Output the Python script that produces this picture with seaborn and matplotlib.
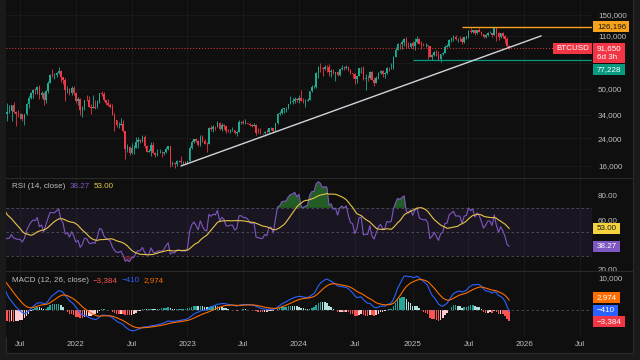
import matplotlib
matplotlib.use('Agg')
import matplotlib.pyplot as plt
from matplotlib.lines import Line2D
from matplotlib.patches import Rectangle
from matplotlib.transforms import Bbox, TransformedBbox
import numpy as np
import pandas as pd
import seaborn as sns

# BTCUSD weekly candles in thousands of USD, first week starts 2020-07-06
close_k = [
    # 2020
    9.25, 9.17, 9.93, 11.05, 11.70, 11.77, 11.65, 11.68, 10.26, 10.33, 11.08, 10.77, 10.67,
    11.38, 11.50, 13.03, 13.76, 15.48, 16.05, 18.40, 18.18, 19.15, 19.27, 23.86, 26.27, 33.00,
    # 2021
    38.2, 35.8, 32.3, 33.1, 38.9, 48.6, 57.5, 45.2, 51.0, 59.0, 57.3, 55.8, 58.2,
    60.0, 56.2, 49.0, 56.6, 58.2, 46.4, 34.7, 35.7, 35.8, 39.1, 35.5, 34.7, 34.2,
    34.2, 31.8, 34.2, 39.8, 43.8, 47.0, 49.3, 48.9, 51.7, 46.0, 47.3, 42.7, 48.2,
    54.7, 61.5, 61.3, 61.3, 63.3, 65.5, 59.7, 57.3, 49.4, 50.1, 46.8, 50.8, 47.3,
    # 2022
    41.9, 43.1, 36.3, 38.2, 42.4, 42.2, 38.4, 37.7, 38.4, 37.8, 41.3, 46.8, 46.4,
    42.2, 40.4, 39.5, 38.5, 34.1, 31.3, 29.4, 29.4, 29.9, 26.6, 20.5, 21.0, 19.3,
    20.8, 20.8, 22.6, 23.3, 23.2, 24.3, 21.5, 19.6, 19.8, 21.8, 19.4, 18.8, 19.3,
    19.4, 19.2, 19.6, 20.6, 21.3, 16.3, 16.7, 16.4, 17.1, 17.1, 16.8, 16.8, 16.7,
    # 2023
    17.1, 20.9, 22.8, 23.7, 22.9, 21.8, 24.6, 23.2, 22.2, 22.0, 28.0, 27.5, 28.5,
    28.3, 30.3, 27.6, 29.2, 28.7, 26.9, 26.8, 27.1, 27.1, 25.9, 26.3, 30.5, 30.6,
    30.2, 30.2, 29.9, 29.2, 29.0, 29.3, 26.1, 26.0, 25.8, 25.8, 26.5, 26.3, 27.9,
    27.9, 26.9, 30.0, 34.5, 35.0, 37.1, 37.4, 37.5, 39.9, 41.4, 41.9, 43.0, 42.3,
    # 2024
    43.9, 41.7, 41.6, 42.0, 42.6, 48.3, 51.6, 51.7, 63.1, 68.9, 68.4, 67.2, 69.6,
    69.4, 64.0, 64.9, 63.1, 63.9, 61.5, 66.9, 68.5, 67.8, 69.6, 66.2, 63.2, 62.7,
    58.0, 60.8, 67.9, 68.3, 58.2, 58.7, 58.5, 64.2, 57.3, 54.9, 59.1, 63.6, 65.6,
    62.8, 62.9, 68.4, 67.9, 68.7, 80.4, 89.8, 97.9, 97.2, 101.2, 104.5, 95.2, 93.7, 98.3,
    # 2025
    94.5, 101.1, 104.7, 97.7, 96.5, 96.1, 96.3, 94.3, 80.7, 82.6, 86.1, 82.4, 78.4,
    83.8, 85.2, 93.8, 94.3, 104.1, 106.5, 109.0, 105.7, 105.7, 105.6, 100.9, 108.4, 109.2,
    119.1, 117.3, 119.4, 114.2, 119.3, 117.4, 113.5, 108.2, 111.1, 115.3, 115.3, 112.2, 123.5,
    115.2, 108.6, 114.5, 110.5, 104.7, 94.2, 91.65,
]
high_k = [
    9.47, 9.35, 10.0, 11.45, 11.90, 12.10, 12.47, 11.80, 12.09, 10.57, 11.10, 11.06, 10.94,
    11.50, 11.72, 13.35, 14.10, 15.90, 16.30, 18.80, 19.40, 19.90, 19.40, 24.30, 28.40, 33.30,
    41.9, 40.1, 37.9, 38.5, 40.9, 49.7, 58.4, 58.3, 52.6, 61.7, 60.6, 58.4, 60.1,
    61.3, 64.9, 57.5, 58.5, 59.6, 59.6, 46.6, 40.8, 39.5, 39.6, 41.3, 35.8, 36.6,
    35.1, 34.6, 34.5, 40.6, 44.8, 48.1, 49.7, 50.5, 52.0, 52.9, 48.8, 47.5, 49.2,
    56.5, 62.0, 67.0, 63.7, 64.2, 69.0, 66.3, 59.9, 59.2, 51.9, 50.5, 51.9, 52.1,
    47.5, 44.4, 43.5, 38.9, 42.5, 45.8, 44.7, 39.8, 45.4, 42.5, 42.3, 46.9, 48.2,
    47.7, 42.4, 42.9, 40.8, 40.0, 34.9, 31.5, 30.5, 32.3, 31.6, 26.8, 22.0, 21.5,
    22.5, 21.6, 24.3, 24.6, 23.6, 25.2, 25.2, 21.8, 20.6, 22.8, 22.8, 19.7, 20.4,
    20.5, 19.9, 19.7, 21.0, 21.5, 21.5, 17.2, 16.8, 17.4, 17.4, 18.4, 17.1, 17.0,
    17.2, 21.3, 23.3, 23.8, 24.2, 23.3, 25.2, 25.2, 23.9, 22.6, 28.4, 29.2, 29.2,
    28.8, 31.0, 30.5, 30.0, 29.8, 29.0, 27.7, 27.4, 28.4, 27.2, 26.8, 31.4, 31.0,
    31.4, 31.8, 30.3, 30.0, 29.7, 30.2, 29.7, 28.1, 28.0, 26.1, 26.9, 27.4, 28.0,
    28.6, 28.0, 30.3, 35.2, 35.9, 37.9, 37.9, 38.0, 40.2, 44.7, 44.0, 44.3, 43.8,
    45.9, 49.0, 43.6, 42.8, 43.9, 48.5, 52.8, 52.9, 64.0, 70.2, 73.8, 68.9, 71.8,
    71.2, 72.7, 66.8, 67.2, 64.7, 65.5, 67.6, 71.9, 70.6, 71.9, 70.0, 66.9, 63.4,
    63.8, 60.5, 68.3, 69.4, 70.0, 62.6, 61.6, 65.0, 64.9, 59.8, 60.6, 64.1, 66.5,
    66.0, 64.5, 69.5, 69.5, 73.6, 81.5, 93.5, 99.6, 98.7, 104.0, 106.6, 108.4, 99.9, 98.9,
    102.7, 106.4, 109.6, 106.4, 102.5, 98.8, 99.5, 96.5, 95.0, 84.0, 87.5, 88.8, 88.5,
    84.0, 86.5, 95.8, 97.9, 104.3, 106.7, 111.9, 110.7, 106.8, 110.5, 108.9, 108.5, 110.0,
    119.5, 123.2, 120.2, 119.8, 119.4, 124.5, 117.6, 113.6, 113.4, 116.8, 118.0, 115.4, 125.5,
    126.2, 115.9, 115.5, 116.4, 110.8, 107.5, 96.6,
]
low_k = [
    9.13, 9.00, 9.10, 9.90, 10.90, 11.10, 11.50, 11.10, 9.88, 9.87, 10.20, 10.14, 10.38,
    10.55, 11.20, 11.40, 12.96, 13.20, 14.80, 15.80, 16.30, 18.20, 17.60, 19.00, 22.70, 26.00,
    28.7, 30.4, 28.9, 29.2, 32.3, 37.4, 47.1, 43.0, 44.9, 49.3, 53.3, 50.4, 55.6,
    55.5, 51.0, 47.1, 48.8, 53.0, 42.9, 30.0, 31.2, 34.8, 31.1, 34.8, 28.8, 32.7,
    32.1, 31.0, 29.3, 34.0, 37.5, 42.8, 43.9, 46.4, 46.6, 42.8, 43.4, 39.6, 40.8,
    46.9, 54.4, 59.6, 58.0, 59.5, 62.3, 55.6, 53.5, 42.0, 47.0, 45.6, 45.6, 45.7,
    40.6, 39.6, 34.0, 32.9, 36.3, 41.7, 38.0, 34.3, 37.4, 37.2, 37.6, 40.5, 45.1,
    42.1, 39.2, 38.6, 37.7, 33.7, 26.7, 28.6, 28.0, 29.3, 26.5, 17.6, 19.7, 18.8,
    19.0, 18.9, 20.7, 20.7, 22.4, 22.7, 20.8, 19.5, 19.5, 18.5, 19.3, 18.1, 18.5,
    19.2, 18.2, 18.6, 19.3, 20.1, 15.6, 16.0, 15.5, 16.0, 16.8, 16.4, 16.4, 16.3,
    16.5, 17.0, 20.4, 22.3, 22.6, 21.4, 21.5, 22.8, 21.9, 19.6, 21.9, 26.6, 26.5,
    27.2, 28.2, 27.1, 26.9, 27.7, 25.8, 26.3, 25.9, 26.6, 25.4, 24.8, 26.2, 29.5,
    29.7, 29.9, 29.5, 28.9, 28.6, 28.7, 25.2, 25.8, 25.4, 25.4, 24.9, 26.1, 26.0,
    27.3, 26.5, 26.8, 29.9, 34.1, 34.5, 34.8, 35.7, 37.2, 39.7, 40.2, 40.6, 41.4,
    40.8, 41.5, 40.3, 38.5, 41.8, 42.3, 47.8, 50.5, 50.9, 59.0, 64.6, 60.8, 66.4,
    64.5, 61.0, 59.6, 62.4, 56.5, 60.2, 60.8, 66.1, 66.6, 67.6, 65.1, 62.8, 58.4,
    53.5, 54.3, 60.6, 63.4, 57.1, 49.1, 56.1, 57.8, 57.2, 52.6, 54.5, 57.6, 62.6,
    59.8, 58.9, 62.4, 65.1, 67.5, 66.8, 80.2, 89.3, 90.8, 90.5, 94.2, 92.2, 92.5, 91.3,
    91.2, 89.3, 99.5, 97.0, 91.2, 94.1, 93.4, 78.2, 80.0, 76.6, 81.2, 81.6, 77.2,
    74.5, 83.1, 85.0, 92.8, 93.4, 100.8, 102.0, 103.1, 100.4, 102.7, 98.2, 99.6, 105.1,
    107.4, 115.7, 114.7, 112.0, 112.7, 116.8, 110.8, 107.3, 107.3, 110.6, 114.8, 108.6, 111.6,
    102.0, 103.5, 106.4, 106.3, 98.9, 93.0, 91.2,
]

last_price = 91650
ath_level = 126196
support_level = 77228
ath_start, support_start = '2025-06-16', '2025-01-06'
rsi_text, rsi_ma_text = '38.27', '53.00'
hist_text, macd_text, signal_text = '\u22123,384', '\u2212410', '2,974'
rsi_last, rsi_ma_last = 38.27, 53.00
hist_last, macd_last, signal_last = -3384, -410, 2974

trend_dates = ['2022-12-12', '2026-03-01']
trend_prices = [15900, 110000]

x_ticks = ['2021-07-05', '2022-01-03', '2022-07-04', '2023-01-02', '2023-07-03', '2024-01-01',
           '2024-07-01', '2025-01-06', '2025-07-07', '2026-01-05', '2026-07-06']
x_labels = ['Jul', '2022', 'Jul', '2023', 'Jul', '2024', 'Jul', '2025', 'Jul', '2026', 'Jul']
price_ticks = [16000, 24000, 34000, 50000, 74000, 110000, 150000]
price_labels = ['16,000', '24,000', '34,000', '50,000', '', '110,000', '150,000']

BG = '#0f0f0f'
GRID = '#1c1c1c'
TXT = '#bdbdbd'
UP, DOWN = '#22ab94', '#f23645'
RSI_C, RSI_MA_C = '#7e57c2', '#e8c547'

sns.set_theme(style='dark', rc={'axes.facecolor': BG, 'figure.facecolor': '#1a1a1a',
                                'axes.edgecolor': BG, 'grid.color': GRID,
                                'text.color': TXT, 'xtick.color': TXT, 'ytick.color': TXT})
plt.rcParams['font.family'] = ['Liberation Sans', 'DejaVu Sans']
FS = 5.8

# data frame + indicators
df = pd.DataFrame({'date': pd.date_range('2020-07-06', periods=len(close_k), freq='7D'),
                   'close': np.array(close_k) * 1000,
                   'high': np.array(high_k) * 1000,
                   'low': np.array(low_k) * 1000})
df['open'] = df['close'].shift(1).fillna(df['close'])
chg = df['close'].diff()
up = chg.clip(lower=0).ewm(alpha=1 / 14, adjust=False).mean()
dn = (-chg.clip(upper=0)).ewm(alpha=1 / 14, adjust=False).mean()
df['rsi'] = 100 - 100 / (1 + up / dn)
df['rsi_ma'] = df['rsi'].rolling(14).mean()
df['macd'] = df['close'].ewm(span=12, adjust=False).mean() - df['close'].ewm(span=26, adjust=False).mean()
df['signal'] = df['macd'].ewm(span=9, adjust=False).mean()
df['hist'] = df['macd'] - df['signal']


def px(x, y):
    return x / 640, 1 - y / 360


fig = plt.figure(figsize=(6.4, 3.6), dpi=100)
fig.add_artist(Rectangle(px(6, 353), 627 / 640, 400 / 360, transform=fig.transFigure,
                         fc=BG, ec='#2a2a2a', lw=0.8, zorder=-10))
L, W = 6 / 640, 586 / 640
ax = fig.add_axes([L, 1 - 178 / 360, W, 178 / 360])
ax_rsi = fig.add_axes([L, 1 - 271 / 360, W, 93 / 360], sharex=ax)
ax_macd = fig.add_axes([L, 1 - 337 / 360, W, 66 / 360], sharex=ax)
for yy in (178, 271):
    fig.add_artist(Line2D([6 / 640, 633 / 640], [1 - yy / 360] * 2, color='#2a2a2a', lw=0.8))

xmin, xmax = pd.Timestamp('2021-05-20'), pd.Timestamp('2026-08-14')

# ---- price panel
rising = df['close'] >= df['open']
ccol = np.where(rising, UP, DOWN)
ax.vlines(df['date'], df['low'], df['high'], colors=ccol, lw=0.6)
ax.bar(df['date'], (df['close'] - df['open']).abs().clip(lower=50),
       bottom=np.minimum(df['open'], df['close']), width=5, color=ccol, linewidth=0)
ax.set_yscale('log')
ax.axhline(last_price, color=DOWN, ls=(0, (1, 2)), lw=0.7)
ax.hlines(ath_level, pd.Timestamp(ath_start), xmax, color='#f7a21b', lw=1)
ax.hlines(support_level, pd.Timestamp(support_start), xmax, color='#089981', lw=0.9)
sns.lineplot(x=pd.to_datetime(trend_dates), y=trend_prices, ax=ax, color='#d1d4dc', lw=1)
ax.set_ylim(13300, 187600)
ax.yaxis.tick_right()
ax.set_yticks(price_ticks)
ax.set_yticklabels(price_labels)
ax.yaxis.set_minor_locator(matplotlib.ticker.NullLocator())

# ---- RSI panel
ax_rsi.axhspan(30, 70, color=RSI_C, alpha=0.1, lw=0)
for lev in (70, 50, 30):
    ax_rsi.axhline(lev, color='#787b86', alpha=0.6, lw=0.6, ls=(0, (3, 3)))
ax_rsi.fill_between(df['date'], df['rsi'], 70, where=df['rsi'] > 70, interpolate=True,
                    color='#2e7d32', alpha=0.7, lw=0)
ax_rsi.fill_between(df['date'], df['rsi'], 30, where=df['rsi'] < 30, interpolate=True,
                    color='#b22833', alpha=0.5, lw=0)
sns.lineplot(data=df, x='date', y='rsi', ax=ax_rsi, color=RSI_C, lw=0.8)
sns.lineplot(data=df, x='date', y='rsi_ma', ax=ax_rsi, color=RSI_MA_C, lw=0.8)
ax_rsi.set_ylim(18.0, 94.6)
ax_rsi.yaxis.tick_right()
ax_rsi.set_yticks([60, 80])
ax_rsi.set_yticklabels(['60.00', '80.00'])

# ---- MACD panel
hprev = df['hist'].shift(1)
hcol = np.where(df['hist'] >= 0, np.where(df['hist'] >= hprev, '#26a69a', '#b2dfdb'),
                np.where(df['hist'] < hprev, '#ff5252', '#ffcdd2'))
ax_macd.axhline(0, color='#787b86', alpha=0.6, lw=0.6, ls=(0, (3, 3)))
ax_macd.bar(df['date'], df['hist'], width=5, color=hcol, linewidth=0)
sns.lineplot(data=df, x='date', y='macd', ax=ax_macd, color='#2962ff', lw=0.8)
sns.lineplot(data=df, x='date', y='signal', ax=ax_macd, color='#ff6d00', lw=0.8)
ax_macd.set_ylim(-8257, 11927)
ax_macd.yaxis.tick_right()
ax_macd.set_yticks([10000])
ax_macd.set_yticklabels(['10,000'])

# ---- common axis styling
for a in (ax, ax_rsi, ax_macd):
    a.set_xlabel('')
    a.set_ylabel('')
    a.set_xlim(xmin, xmax)
    a.tick_params(axis='y', length=0, pad=4.3, labelsize=FS, labelcolor=TXT)
    a.tick_params(axis='x', length=0)
    for s in a.spines.values():
        s.set_visible(False)
ax_macd.set_xticks(pd.to_datetime(x_ticks))
ax_macd.set_xticklabels(x_labels)
ax_macd.tick_params(axis='x', pad=3.0, labelsize=FS, labelcolor=TXT)
ax.tick_params(axis='x', labelbottom=False)
ax_rsi.tick_params(axis='x', labelbottom=False)
ax.grid(True, color=GRID, lw=0.6)
ax_rsi.grid(True, axis='x', color=GRID, lw=0.6)
ax_rsi.grid(False, axis='y')
ax_macd.grid(True, axis='x', color=GRID, lw=0.6)
ax_macd.grid(False, axis='y')

renderer = fig.canvas.get_renderer()

# clipped 20.00 label at the bottom of the RSI scale
y20 = 360 - ax_rsi.transData.transform((0, 20))[1]
t20 = fig.text(*px(598, y20 + 2), '20.00', fontsize=FS, color=TXT, va='center')
t20.set_clip_on(True)
t20.set_clip_box(TransformedBbox(Bbox([[0, 1 - 271 / 360], [1, 1]]), fig.transFigure))


def box(axis, value, lines, bg, fg='white', dy=0, right=False, h=11):
    # price-scale label: coloured box with text, positioned in figure pixels
    yc = 360 - axis.transData.transform((0, value))[1] + dy
    step = 9
    texts = []
    for i, line in enumerate(lines):
        if right:
            t = fig.text(*px(589, yc + i * step), line, fontsize=FS, color=fg, va='center', ha='right')
        else:
            t = fig.text(*px(597, yc + i * step), line, fontsize=FS, color=fg, va='center')
        texts.append(t)
    ext = [t.get_window_extent(renderer) for t in texts]
    if right:
        x0, x1 = min(e.x0 for e in ext) - 3, 592
    else:
        x0, x1 = 593, max(e.x1 for e in ext) + 3
    top = yc - h / 2
    bottom = yc + h / 2 + (len(lines) - 1) * step
    fig.add_artist(Rectangle(px(x0, bottom), (x1 - x0) / 640, (bottom - top) / 360,
                             transform=fig.transFigure, fc=bg, ec='none', zorder=1))
    for t in texts:
        t.set_zorder(2)


box(ax, ath_level, ['126,196'], '#f7a21b', fg='#1a1a1a')
box(ax, last_price, ['91,650', '6d 3h'], DOWN)
box(ax, last_price, ['BTCUSD'], DOWN, right=True)
box(ax, support_level, ['77,228'], '#089981', dy=9.4)
box(ax_rsi, rsi_ma_last, [rsi_ma_text], '#f5d33c', fg='#1a1a1a')
box(ax_rsi, rsi_last, [rsi_text], RSI_C)
box(ax_macd, signal_last, [signal_text], '#ff6d00', dy=-2.3)
box(ax_macd, macd_last, [macd_text], '#2962ff', dy=-1.3)
box(ax_macd, hist_last, [hist_text], '#f23645')


def legend_row(x, y, parts):
    for text, color in parts:
        t = fig.text(*px(x, y), text, fontsize=FS, color=color, va='center')
        x = t.get_window_extent(renderer).x1 + 4


legend_row(12, 186, [('RSI (14, close)', TXT), (rsi_text, RSI_C), (rsi_ma_text, RSI_MA_C)])
legend_row(12, 281, [('MACD (12, 26, close)', TXT), (hist_text, '#ff5252'),
                     (macd_text, '#2962ff'), (signal_text, '#ff6d00')])

fig.savefig('out.png', dpi=100, facecolor=fig.get_facecolor())
